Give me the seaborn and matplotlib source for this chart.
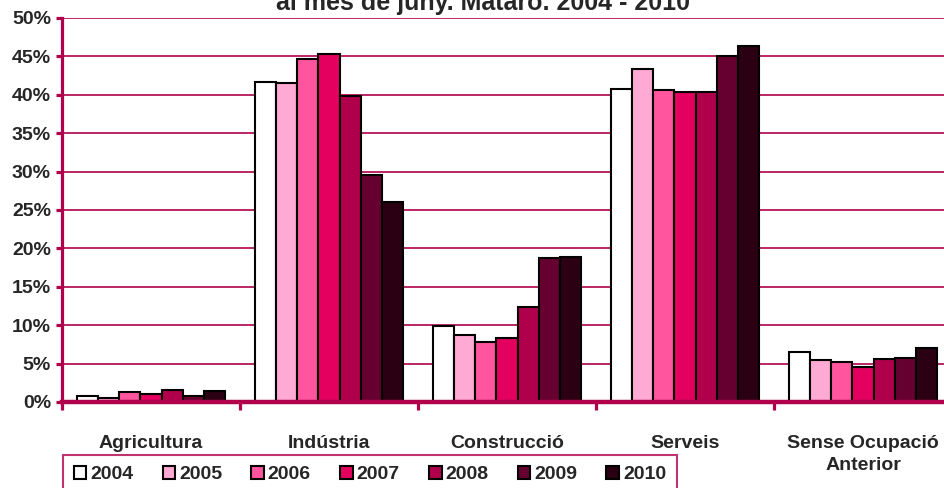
import pandas as pd
import seaborn as sns
import matplotlib.pyplot as plt
from matplotlib.ticker import FuncFormatter

sectors = ["Agricultura", "Indústria", "Construcció", "Serveis", "Sense Ocupació\nAnterior"]
years = ["2004", "2005", "2006", "2007", "2008", "2009", "2010"]

# % per sector, one list per year
v2004 = [0.8, 41.7, 9.9, 40.8, 6.55]
v2005 = [0.55, 41.5, 8.7, 43.3, 5.45]
v2006 = [1.3, 44.6, 7.85, 40.6, 5.25]
v2007 = [1.1, 45.3, 8.3, 40.4, 4.5]
v2008 = [1.55, 39.8, 12.4, 40.3, 5.65]
v2009 = [0.8, 29.5, 18.8, 45.0, 5.75]
v2010 = [1.45, 26.1, 18.9, 46.4, 7.05]

colors = ["#FFFFFF", "#FFAAD5", "#FF559F", "#E3005F", "#B0004C", "#660030", "#2A0012"]
accent = "#B0004C"

sns.set_style("white")
plt.rcParams["font.family"] = ["Liberation Sans", "DejaVu Sans"]
plt.rcParams["font.weight"] = "bold"

values = [v2004, v2005, v2006, v2007, v2008, v2009, v2010]
rows = []
for y, vals in zip(years, values):
    for s, v in zip(sectors, vals):
        rows.append({"sector": s, "year": y, "pct": v})
df = pd.DataFrame(rows)

fig = plt.figure(figsize=(9.44, 4.88), dpi=100)
ax = fig.add_axes([62 / 944, 86 / 488, 890 / 944, 384 / 488])

sns.barplot(data=df, x="sector", y="pct", hue="year", order=sectors, hue_order=years,
            palette=colors, saturation=1, edgecolor="black", linewidth=1.5,
            width=0.83, gap=0, errorbar=None, ax=ax, zorder=3)

ax.set_xlim(-0.5, 4.5)
ax.set_ylim(0, 50)
ax.set_yticks(range(0, 51, 5))
ax.yaxis.set_major_formatter(FuncFormatter(lambda v, p: f"{int(v)}%"))
ax.grid(axis="y", color=accent, linewidth=1.2, zorder=0)
ax.set_axisbelow(True)

for side in ["top", "right"]:
    ax.spines[side].set_visible(False)
ax.spines["left"].set_color(accent)
ax.spines["left"].set_linewidth(2.3)
ax.spines["bottom"].set_color(accent)
ax.spines["bottom"].set_linewidth(3.2)
ax.spines["bottom"].set_zorder(5)

ax.tick_params(axis="y", left=True, length=4, width=2.3, color=accent, pad=4, labelsize=14)
ax.set_xticks(range(len(sectors)))
ax.set_xticklabels(sectors, fontsize=14, fontweight="bold", linespacing=1.35, va="top")
ax.set_xticks([i - 0.5 for i in range(len(sectors) + 1)], minor=True)
ax.tick_params(axis="x", which="major", length=0, pad=24)
ax.tick_params(axis="x", which="minor", bottom=True, length=6, width=2.3, color=accent)
ax.set_xlabel("")
ax.set_ylabel("")

handles, labels = ax.get_legend_handles_labels()
ax.get_legend().remove()
leg = fig.legend(handles, labels, loc="upper left", bbox_to_anchor=(63 / 944, 1 - 455 / 488),
                 ncol=7, fontsize=14, frameon=True, fancybox=False,
                 handlelength=0.65, handleheight=0.65, handletextpad=0.2,
                 columnspacing=1.5, borderpad=0.55, borderaxespad=0)
leg.get_frame().set_edgecolor(accent)
leg.get_frame().set_linewidth(1.5)
for t in leg.get_texts():
    t.set_fontweight("bold")

fig.text(483 / 944, 1 - 10 / 488, "al mes de juny. Mataró. 2004 - 2010",
         ha="center", va="baseline", fontsize=18, fontweight="bold")

fig.savefig("out.png", dpi=100)
